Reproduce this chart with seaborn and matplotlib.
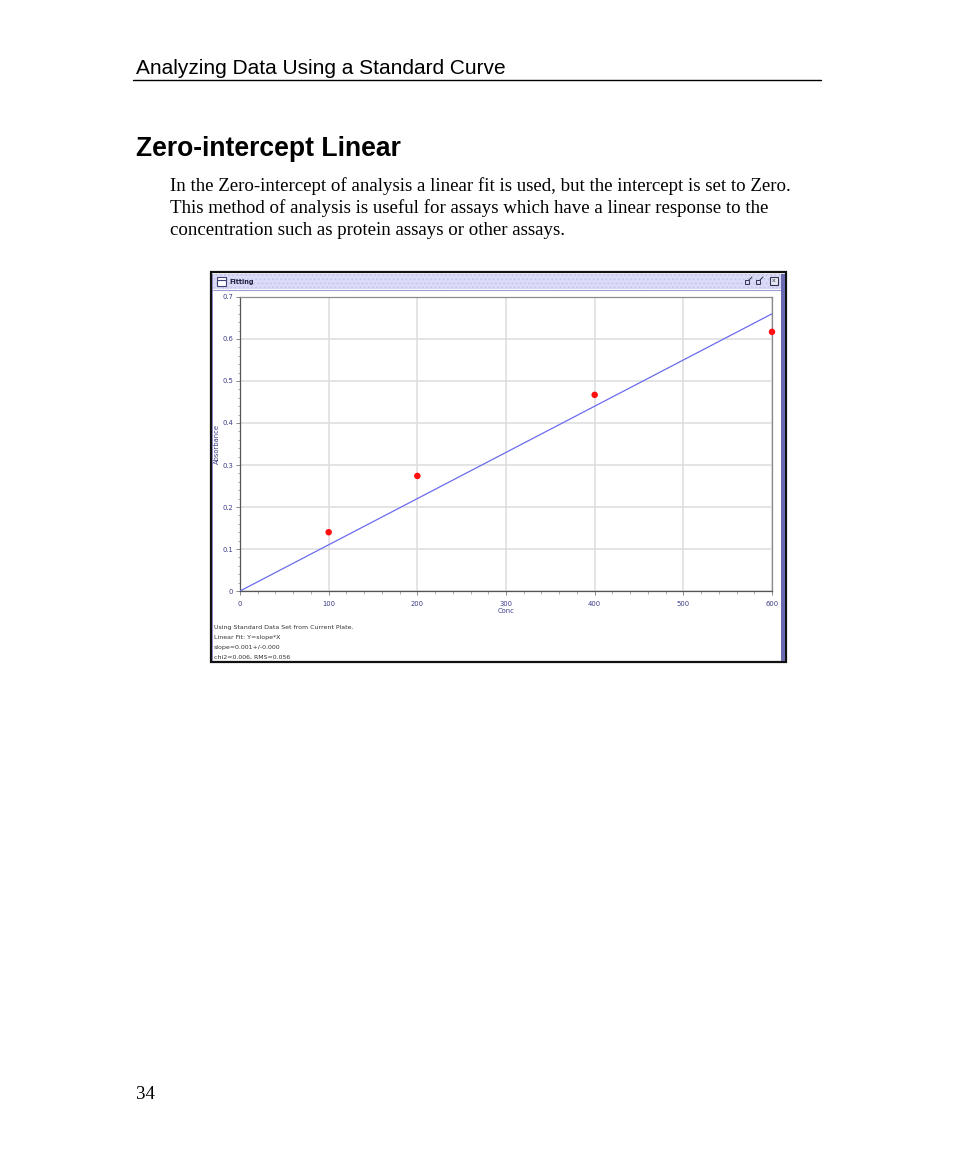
import matplotlib
matplotlib.use("Agg")
import matplotlib.pyplot as plt
import seaborn as sns
import pandas as pd
from matplotlib.patches import Rectangle
from matplotlib.lines import Line2D
from matplotlib.transforms import Affine2D
from matplotlib.ticker import MultipleLocator

# ---------------- data ----------------
conc = [100, 200, 400, 600]
absorbance = [0.140, 0.274, 0.467, 0.617]
fit_conc = [0, 600]
fit_abs = [0.0, 0.66]
x_ticks = [0, 100, 200, 300, 400, 500, 600]
y_ticks = [0.0, 0.1, 0.2, 0.3, 0.4, 0.5, 0.6, 0.7]
y_tick_labels = ["0", "0.1", "0.2", "0.3", "0.4", "0.5", "0.6", "0.7"]
fit_notes = ["Using Standard Data Set from Current Plate.",
             "Linear Fit: Y=slope*X",
             "slope=0.001+/-0.000",
             "chi2=0.006, RMS=0.056"]
page_header = "Analyzing Data Using a Standard Curve"
section_title = "Zero-intercept Linear"
paragraph = ["In the Zero-intercept of analysis a linear fit is used, but the intercept is set to Zero.",
             "This method of analysis is useful for assays which have a linear response to the",
             "concentration such as protein assays or other assays."]
page_number = "34"

points = pd.DataFrame({"Conc": conc, "Absorbance": absorbance})
fit = pd.DataFrame({"Conc": fit_conc, "Absorbance": fit_abs})

# ---------------- figure ----------------
sns.set_style("white")
plt.rcParams['font.family'] = ['DejaVu Sans']

W, H = 954, 1159
fig = plt.figure(figsize=(W / 100, H / 100), dpi=100)
fig.patch.set_facecolor("white")
pix = Affine2D().scale(1 / W, -1 / H).translate(0, 1) + fig.transFigure

# page text
fig.text(136, 74, page_header, transform=pix, fontsize=15.0,
         family=["Liberation Sans"], va="baseline", ha="left", color="black")
fig.add_artist(Line2D([133, 821], [80, 80], transform=pix, color="black", lw=1.0))
fig.text(136, 156, section_title, transform=pix, fontsize=19.1, fontweight="bold",
         family=["Liberation Sans"], va="baseline", ha="left", color="black")
for i, line in enumerate(paragraph):
    fig.text(170, 191 + 22 * i, line, transform=pix, fontsize=13.6,
             family=["Liberation Serif"], va="baseline", ha="left", color="black")
fig.text(136, 1099, page_number, transform=pix, fontsize=13.6,
         family=["Liberation Serif"], va="baseline", ha="left", color="black")

# window frame
fig.add_artist(Rectangle((211, 272), 575, 390, transform=pix, facecolor="white",
                         edgecolor="#111111", lw=1.6, zorder=-3))
fig.add_artist(Rectangle((213, 274), 568, 15, transform=pix, facecolor="#dcdcf6",
                         edgecolor="#c8c8ee", hatch="....", lw=0, zorder=-2))
fig.add_artist(Line2D([213, 781], [289.5, 289.5], transform=pix, color="#9a9ad8", lw=0.8, zorder=-1))
fig.add_artist(Rectangle((781, 274), 4, 387, transform=pix, facecolor="#6a6ab0",
                         edgecolor="none", zorder=-1))
fig.add_artist(Rectangle((212, 274), 1.5, 387, transform=pix, facecolor="#8a8ac0",
                         edgecolor="none", zorder=-1))
# title bar icon + caption
fig.add_artist(Rectangle((217, 277), 9, 9, transform=pix, facecolor="white",
                         edgecolor="#40407a", lw=0.8, zorder=-1))
fig.add_artist(Line2D([217, 226], [279.5, 279.5], transform=pix, color="#40407a", lw=0.8, zorder=-1))
fig.text(229, 282, "Fitting", transform=pix, fontsize=4.8, fontweight="bold",
         va="center", ha="left", color="#222244")
# right title bar buttons
fig.add_artist(Rectangle((745, 280), 4, 4, transform=pix, facecolor="none",
                         edgecolor="#333355", lw=0.7))
fig.add_artist(Line2D([749, 752], [280, 277], transform=pix, color="#333355", lw=0.7))
fig.add_artist(Rectangle((756, 280), 4, 4, transform=pix, facecolor="none",
                         edgecolor="#333355", lw=0.7))
fig.add_artist(Line2D([760, 763], [280, 277], transform=pix, color="#333355", lw=0.7))
fig.add_artist(Rectangle((770, 277), 8, 8, transform=pix, facecolor="#e8e8f0",
                         edgecolor="#333355", lw=0.8))
fig.text(774, 281, "x", transform=pix, fontsize=4.5, va="center", ha="center", color="#333355")

# fit notes
for i, note in enumerate(fit_notes):
    fig.text(214, 627 + 10 * i, note, transform=pix, fontsize=4.5,
             va="center", ha="left", color="#333333")

# ---------------- plot ----------------
ax = fig.add_axes([240 / W, 1 - 591 / H, (772 - 240) / W, (591 - 297) / H])
ax.set_facecolor("white")
sns.lineplot(data=fit, x="Conc", y="Absorbance", ax=ax, color="#6b6bf0", lw=0.9, zorder=3)
sns.scatterplot(data=points, x="Conc", y="Absorbance", ax=ax, color="#ff1010",
                s=22, edgecolor="none", zorder=4, clip_on=False)

ax.set_xlim(0, 600)
ax.set_ylim(0, 0.7)
ax.set_xticks(x_ticks)
ax.set_xticklabels([str(v) for v in x_ticks])
ax.set_yticks(y_ticks)
ax.set_yticklabels(y_tick_labels)
ax.xaxis.set_minor_locator(MultipleLocator(20))
ax.yaxis.set_minor_locator(MultipleLocator(0.02))
ax.grid(True, which="major", color="#dcdcdc", lw=1.1)
ax.set_axisbelow(True)
ax.tick_params(which="major", direction="out", length=3, width=0.6, color="#777777",
               labelsize=4.9, labelcolor="#3c3c88", pad=2, bottom=True, left=True)
ax.tick_params(axis="x", which="major", pad=4)
ax.tick_params(which="minor", direction="out", length=1.8, width=0.5, color="#888888",
               bottom=True, left=True)
for side in ["top", "right"]:
    ax.spines[side].set_color("#8a8a8a")
    ax.spines[side].set_linewidth(0.9)
for side in ["left", "bottom"]:
    ax.spines[side].set_color("#555555")
    ax.spines[side].set_linewidth(0.9)
ax.set_xlabel("Conc", fontsize=4.9, color="#3c3c88", labelpad=1)
ax.set_ylabel("Absorbance", fontsize=4.9, color="#3c3c88", labelpad=1.5)

fig.savefig("out.png", dpi=100)
